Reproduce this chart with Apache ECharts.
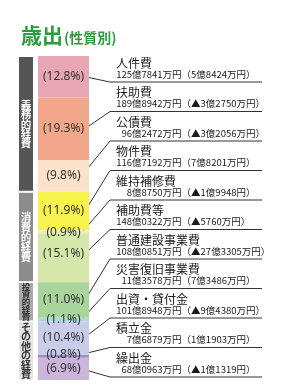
<!DOCTYPE html>
<html><head><meta charset="utf-8">
<script src="https://cdn.jsdelivr.net/npm/echarts@6/dist/echarts.min.js"></script>
<style>html,body{margin:0;padding:0;background:#fff}#c{width:281px;height:391px}</style>
</head><body><div id="c"></div>
<script>
// ---- data ----
const titleMain = '歳出';
const titleSub = '(性質別)';
const names = ['人件費','扶助費','公債費','物件費','維持補修費','補助費等','普通建設事業費','災害復旧事業費','出資・貸付金','積立金','繰出金'];
const amountOku = ['125','189','96','116','8','148','108','11','101','7','68'];
const amountRest = ['7841','8942','2472','7192','8750','0322','0851','3578','8948','6879','0963'];
const changes = ['5億8424万円','▲3億2750万円','▲3億2056万円','7億8201万円','▲1億9948円','▲5760万円','▲27億3305万円','7億3486万円','▲9億4380万円','1億1903万円','▲1億1319円'];
const pct = [12.8,19.3,9.8,11.9,0.9,15.1,11.0,1.1,10.4,0.8,6.9];
const groupNames = ['義務的経費','消費的経費','投資的経費','その他の経費'];
const groupOf = [0,0,0,1,1,1,2,2,3,3,3];

// ---- styles / layout ----
const colors = ['#e8a6b4','#f2a78b','#fde2cb','#f7f24c','#e6efb2','#d5e8a9','#a9d49b','#a6dbd6','#c9cdea','#9b8cc6','#cdb4da'];
const groupColors = ['#555555','#8c8c8c','#a9a9a9','#e3e3e3'];
const groupText = ['#ffffff','#ffffff','#333333','#333333'];
const groupFont = [[10.5,9.5],[10.5,10],[8.5,7.6],[10,9.4]];
const labelNudge = [0,0,0,0,1,-4,0,0,-1,-2,0];
const green = '#2a9e3e';
const pctFont = '12px "Noto Sans"';
const uTop = 82, uStep = 29.5, uX0 = 110, uX1 = 262;
const nameX = 116, okuX = 132;

const groupSum = groupNames.map((_, g) => +pct.filter((p, i) => groupOf[i] === g).reduce((a, b) => a + b, 0).toFixed(1));
const fmtPct = p => '(' + p.toFixed(1) + '%)';

const chart = echarts.init(document.getElementById('c'), null, {renderer: 'canvas'});
const series = [];
pct.forEach((p, i) => {
  series.push({
    type: 'bar', stack: 'main', xAxisIndex: 0, yAxisIndex: 0, barWidth: '100%',
    data: [p], itemStyle: {color: colors[i]}, silent: true,
    label: {show: true, position: 'inside', formatter: fmtPct(p), color: '#333',
      textBorderWidth: 0, fontSize: 12, fontFamily: 'Noto Sans', offset: [0, labelNudge[i]]}
  });
});
groupSum.forEach((v, g) => {
  series.push({
    type: 'bar', stack: 'grp', xAxisIndex: 1, yAxisIndex: 1, barWidth: '100%',
    data: [v], itemStyle: {color: groupColors[g], borderColor: '#fff', borderWidth: 1}, silent: true,
    label: {show: true, position: 'inside', formatter: groupNames[g].split('').join('\n'),
      color: groupText[g], fontSize: groupFont[g][0], lineHeight: groupFont[g][1],
      textBorderWidth: 0, fontWeight: 'bold', fontFamily: 'Noto Sans CJK JP', overflow: 'none'}
  });
});

chart.setOption({
  animation: false,
  backgroundColor: '#fff',
  title: {
    left: 16, top: 20,
    text: '{a|' + titleMain + '}{b|' + titleSub + '}',
    textStyle: {rich: {
      a: {fontSize: 21, fontWeight: 'bold', color: green, fontFamily: 'Noto Sans CJK JP', verticalAlign: 'bottom'},
      b: {fontSize: 14, fontWeight: 'bold', color: green, fontFamily: 'Noto Sans CJK JP', verticalAlign: 'bottom', padding: [0,0,1,1]}
    }}
  },
  grid: [
    {left: 38, width: 51, top: 56, height: 324},
    {left: 18, width: 16, top: 56, height: 324}
  ],
  xAxis: [
    {type: 'category', data: [''], gridIndex: 0, show: false},
    {type: 'category', data: [''], gridIndex: 1, show: false}
  ],
  yAxis: [
    {type: 'value', min: 0, max: 100, inverse: true, gridIndex: 0, show: false},
    {type: 'value', min: 0, max: 100, inverse: true, gridIndex: 1, show: false}
  ],
  series: series
});

// leader lines + right labels
const ctx = document.createElement('canvas').getContext('2d');
ctx.font = pctFont;
const cx = chart.convertToPixel({xAxisIndex: 0}, '');
const graphics = [];
let acc = 0;
pct.forEach((p, i) => {
  const mid = acc + p / 2; acc += p;
  const py = chart.convertToPixel({yAxisIndex: 0}, mid) + labelNudge[i];
  const w = ctx.measureText(fmtPct(p)).width;
  const sx = cx + w / 2 + 1;
  const uy = uTop + i * uStep;
  graphics.push({type: 'polyline', silent: true,
    shape: {points: [[sx, py], [uX0, uy], [uX1, uy]]},
    style: {stroke: '#333', lineWidth: 1, fill: null}});
  graphics.push({type: 'text', silent: true, x: nameX, y: uy - 19,
    style: {text: names[i], font: '12px "Noto Sans CJK JP"', fill: '#1a1a1a', textAlign: 'left', textVerticalAlign: 'middle', align: 'left', verticalAlign: 'middle'}});
  graphics.push({type: 'text', silent: true, x: okuX, y: uy - 8,
    style: {text: amountOku[i], font: '9.5px "Noto Sans CJK JP"', fill: '#1a1a1a', textAlign: 'right', textVerticalAlign: 'middle', align: 'right', verticalAlign: 'middle'}});
  graphics.push({type: 'text', silent: true, x: okuX, y: uy - 8,
    style: {text: '億' + amountRest[i] + '万円（' + changes[i] + '）', font: '9.5px "Noto Sans CJK JP"', fill: '#1a1a1a', textAlign: 'left', textVerticalAlign: 'middle', align: 'left', verticalAlign: 'middle'}});
});
chart.setOption({graphic: graphics});
</script>
</body></html>
